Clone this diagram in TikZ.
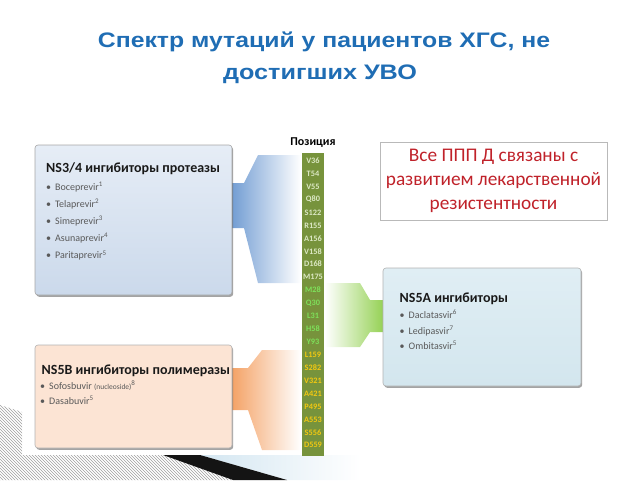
\documentclass[tikz,border=0pt]{standalone}
\usepackage{fontspec}
\setmainfont{Carlito}
\newfontfamily\arialf{Liberation Sans}
\usetikzlibrary{shadows,patterns}
\definecolor{ttl}{HTML}{1F6DB4}
\definecolor{itm}{HTML}{595959}
\definecolor{redt}{HTML}{C0222A}
\definecolor{colg}{HTML}{77933C}
\definecolor{labpale}{HTML}{DCE8C4}
\definecolor{labgreen}{HTML}{7EE05A}
\definecolor{labyel}{HTML}{F2C811}
\definecolor{bluec}{HTML}{6F9BD2}
\definecolor{orangec}{HTML}{F4A062}
\definecolor{greenc}{HTML}{92D050}
\definecolor{lbl}{HTML}{D3E6F1}
\begin{document}
\begin{tikzpicture}[x=1pt,y=-1pt,
  card/.style={draw=#1, rounded corners=3pt, line width=0.6pt, inner sep=0pt,
    drop shadow={shadow xshift=1.2pt, shadow yshift=-1.8pt, opacity=0.55, fill=black!65}},
  ttlfont/.style={font=\arialf\bfseries\fontsize{21}{24}\selectfont, text=ttl, inner sep=0pt, anchor=base},
  boxttl/.style={font=\bfseries\fontsize{14}{16}\selectfont, text=black!90, inner sep=0pt, anchor=base west},
  item/.style={font=\fontsize{10}{11}\selectfont, text=itm, inner sep=0pt, anchor=base west},
  lab/.style={font=\bfseries\fontsize{8.3}{9}\selectfont, inner sep=0pt}
]
\useasboundingbox (0,0) rectangle (640,480);

% bottom-left decoration
\path[pattern=north west lines, pattern color=gray!75]
  (0,405) -- (22,412) -- (22,455) -- (163,455) -- (233,480) -- (0,480) -- cycle;
\shade[left color=lbl, right color=white] (200,455) -- (360,455) -- (360,480) -- (287,480) -- cycle;
\fill[black!92] (163,455) -- (200,455) -- (287,480) -- (233,480) -- cycle;

% title
\node[ttlfont] (t1) at (324,47.7) {\scalebox{1.18}[1]{Спектр мутаций у пациентов ХГС, не}};
\node[ttlfont] (t2) at (320,79.5) {\scalebox{1.2}[1]{достигших УВО}};

% connectors (bands)
\shade[left color=bluec, right color=white]
  (230,183) -- (244,183) -- (258,155) -- (301,155) -- (301,283) -- (258,283) -- (244,228) -- (230,228) -- cycle;
\shade[left color=orangec, right color=white]
  (230,368) -- (248,368) -- (262,350) -- (301,350) -- (301,450) -- (262,450) -- (248,410) -- (230,410) -- cycle;
\shade[left color=white, right color=greenc]
  (325,283) -- (360,283) -- (370,300) -- (385,300) -- (385,332) -- (370,332) -- (360,347) -- (325,347) -- cycle;

% cards
\node[card=gray!70, top color={rgb,255:red,230;green,237;blue,246}, bottom color={rgb,255:red,203;green,217;blue,235},
  minimum width=197pt, minimum height=150pt] (ns34) at (133.5,220) {};
\node[card=gray!60, fill={rgb,255:red,252;green,228;blue,212},
  minimum width=197pt, minimum height=103pt] (ns5b) at (133.5,396.5) {};
\node[card=gray!60, top color={rgb,255:red,224;green,238;blue,244}, bottom color={rgb,255:red,211;green,230;blue,238},
  minimum width=198pt, minimum height=118pt] (ns5a) at (482,327) {};
\node[draw=gray!55, line width=0.7pt, fill=white, minimum width=227pt, minimum height=78pt] (red) at (493.5,181) {};

% column
\node[fill=colg, minimum width=22pt, minimum height=303pt, inner sep=0pt] (col) at (313,304.5) {};
\node[font=\bfseries\fontsize{12}{13}\selectfont, inner sep=0pt] (poz) at (313,143) {Позиция};
\foreach \t [count=\i] in {V36,T54,V55,Q80,S122,R155,A156,V158,D168,M175}
  \node[lab, text=labpale] (pa\i) at (313,{160.7+(\i-1)*12.93}) {\t};
\foreach \t [count=\i] in {M28,Q30,L31,H58,Y93}
  \node[lab, text=labgreen] (pb\i) at (313,{160.7+(\i+9)*12.93}) {\t};
\foreach \t [count=\i] in {L159,S282,V321,A421,P495,A553,S556,D559}
  \node[lab, text=labyel] (pc\i) at (313,{160.7+(\i+14)*12.93}) {\t};

% NS3/4 text
\node[boxttl] (h1) at (46,172.5) {NS3/4 ингибиторы протеазы};
\node[item] (a1) at (46,190) {•\hspace{4pt}Boceprevir\textsuperscript{1}};
\node[item] (a2) at (46,207.2) {•\hspace{4pt}Telaprevir\textsuperscript{2}};
\node[item] (a3) at (46,224.4) {•\hspace{4pt}Simeprevir\textsuperscript{3}};
\node[item] (a4) at (46,241.6) {•\hspace{4pt}Asunaprevir\textsuperscript{4}};
\node[item] (a5) at (46,258.8) {•\hspace{4pt}Paritaprevir\textsuperscript{5}};

% NS5B text
\node[boxttl] (h2) at (41.5,374.5) {NS5B ингибиторы полимеразы};
\node[item] (b1) at (40,389.5) {•\hspace{4pt}Sofosbuvir {\fontsize{7.5}{9}\selectfont (nucleoside)}\textsuperscript{8}};
\node[item] (b2) at (40,404.5) {•\hspace{4pt}Dasabuvir\textsuperscript{5}};

% NS5A text
\node[boxttl] (h3) at (399.5,302.5) {NS5A ингибиторы};
\node[item] (c1) at (399.5,318.5) {•\hspace{4pt}Daclatasvir\textsuperscript{6}};
\node[item] (c2) at (399.5,334) {•\hspace{4pt}Ledipasvir\textsuperscript{7}};
\node[item] (c3) at (399.5,349.5) {•\hspace{4pt}Ombitasvir\textsuperscript{5}};

% red text
\node[font=\fontsize{19.3}{24}\selectfont, text=redt, align=center, inner sep=0pt] (redtxt) at (493.5,181)
  {Все ППП Д связаны с\\развитием лекарственной\\резистентности};
\end{tikzpicture}
\end{document}
